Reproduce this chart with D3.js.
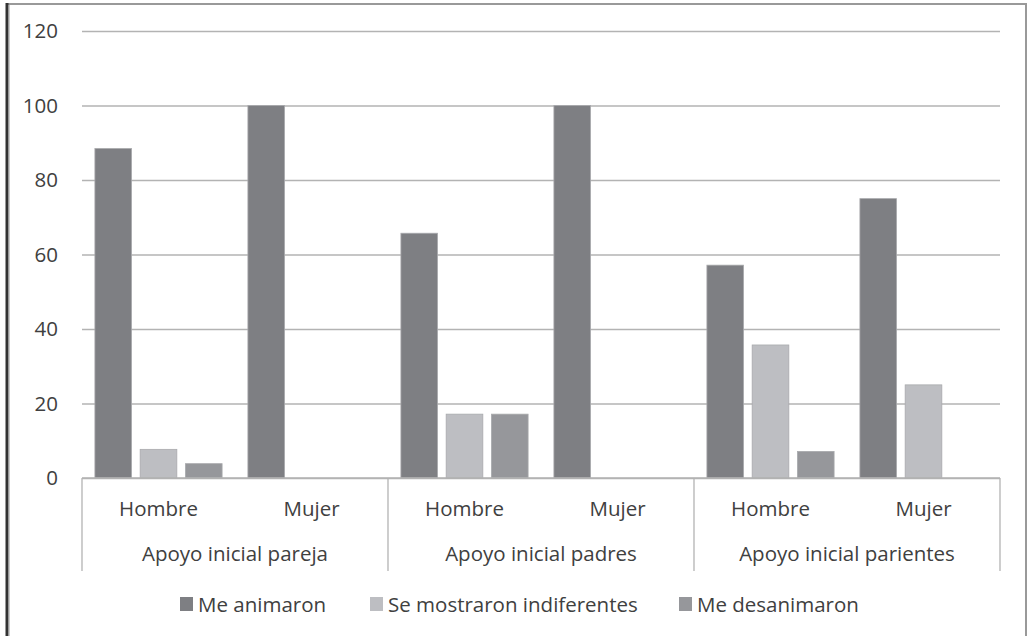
<!DOCTYPE html>
<html><head><meta charset="utf-8">
<script src="https://cdn.jsdelivr.net/npm/d3@7"></script>
<style>
html,body{margin:0;padding:0;background:#fff;}
svg{display:block;}
text{font-family:"Open Sans",sans-serif;fill:#404040;}
</style></head>
<body>
<script>
const groups = ["Apoyo inicial pareja", "Apoyo inicial padres", "Apoyo inicial parientes"];
const subcats = ["Hombre", "Mujer"];
const seriesNames = ["Me animaron", "Se mostraron indiferentes", "Me desanimaron"];
// values[group][subcat] = [animaron, indiferentes, desanimaron]
const animaron     = [[88.46, 100], [65.71, 100], [57.14, 75]];
const indiferentes = [[7.69, 0],    [17.14, 0],   [35.71, 25]];
const desanimaron  = [[3.85, 0],    [17.14, 0],   [7.14, 0]];
const yTicks = [0, 20, 40, 60, 80, 100, 120];
const colors = ["#7e7f83", "#bdbec2", "#96979b"];

const W = 1028, H = 636, FS = 20.5;
const svg = d3.select("body").append("svg").attr("width", W).attr("height", H);

// outer frame
svg.append("rect").attr("x", 0).attr("y", 0).attr("width", W).attr("height", H).attr("fill", "#fff");
svg.append("line").attr("x1", 7).attr("x2", 1026).attr("y1", 4).attr("y2", 4).attr("stroke", "#999").attr("stroke-width", 2);
svg.append("line").attr("x1", 1026).attr("x2", 1026).attr("y1", 3).attr("y2", H).attr("stroke", "#999").attr("stroke-width", 2);
svg.append("line").attr("x1", 7).attr("x2", 7).attr("y1", 3).attr("y2", H).attr("stroke", "#333").attr("stroke-width", 3);
svg.append("line").attr("x1", 9.5).attr("x2", 9.5).attr("y1", 5).attr("y2", H).attr("stroke", "#ccc").attr("stroke-width", 1);

const x0 = 82, x1 = 1000, yTop = 31, yBot = 478;
const y = d3.scaleLinear().domain([0, 120]).range([yBot, yTop]);
const xg = d3.scaleBand().domain(groups).range([x0, x1]).padding(0);
const xs = d3.scaleBand().domain(subcats).range([0, xg.bandwidth()]).padding(0);
const xb = d3.scaleBand().domain(seriesNames).range([0, xs.bandwidth()]).paddingInner(0.19).paddingOuter(0.285);

// gridlines
const yAxis = d3.axisLeft(y).tickValues(yTicks).tickSize(-(x1 - x0)).tickPadding(24).tickFormat(d3.format("d"));
const ga = svg.append("g").attr("transform", `translate(${x0},0)`).call(yAxis);
ga.select(".domain").remove();
ga.selectAll(".tick line").attr("stroke", "#b3b3b3").attr("stroke-width", 1.3);
ga.selectAll(".tick text").attr("font-size", FS).attr("fill", "#404040").attr("dy", "0.32em");

// bars
const seriesVals = [animaron, indiferentes, desanimaron];
const data = [];
groups.forEach((g, gi) => subcats.forEach((s, si) => seriesNames.forEach((n, ni) => {
  const v = seriesVals[ni][gi][si];
  if (v > 0) data.push({g, s, n, ni, v});
})));
svg.append("g").selectAll("rect").data(data).join("rect")
  .attr("x", d => xg(d.g) + xs(d.s) + xb(d.n))
  .attr("width", xb.bandwidth())
  .attr("y", d => y(d.v))
  .attr("height", d => y(0) - y(d.v))
  .attr("fill", d => colors[d.ni])
  .attr("stroke", "#a9aaad").attr("stroke-width", 0.8);

// x axis line and dividers
svg.append("line").attr("x1", x0).attr("x2", x1).attr("y1", yBot).attr("y2", yBot).attr("stroke", "#b3b3b3").attr("stroke-width", 1.3);
const divs = groups.map(g => xg(g)).concat([x1]);
svg.append("g").selectAll("line").data(divs).join("line")
  .attr("x1", d => d).attr("x2", d => d).attr("y1", yBot).attr("y2", 571)
  .attr("stroke", "#b3b3b3").attr("stroke-width", 1.3);

// sub labels
const subLab = [];
groups.forEach(g => subcats.forEach(s => subLab.push({g, s})));
svg.append("g").selectAll("text").data(subLab).join("text")
  .attr("x", d => xg(d.g) + xs(d.s) + xs.bandwidth() / 2)
  .attr("y", 516).attr("text-anchor", "middle").attr("font-size", FS)
  .text(d => d.s);
svg.append("g").selectAll("text").data(groups).join("text")
  .attr("x", d => xg(d) + xg.bandwidth() / 2)
  .attr("y", 561).attr("text-anchor", "middle").attr("font-size", FS)
  .text(d => d);

// legend
const legX = [180, 370, 679];
const leg = svg.append("g").selectAll("g").data(seriesNames).join("g")
  .attr("transform", (d, i) => `translate(${legX[i]},597)`);
leg.append("rect").attr("width", 13).attr("height", 14).attr("fill", (d, i) => colors[i]);
leg.append("text").attr("x", 18).attr("y", 15).attr("font-size", FS).text(d => d);
</script>
</body></html>
